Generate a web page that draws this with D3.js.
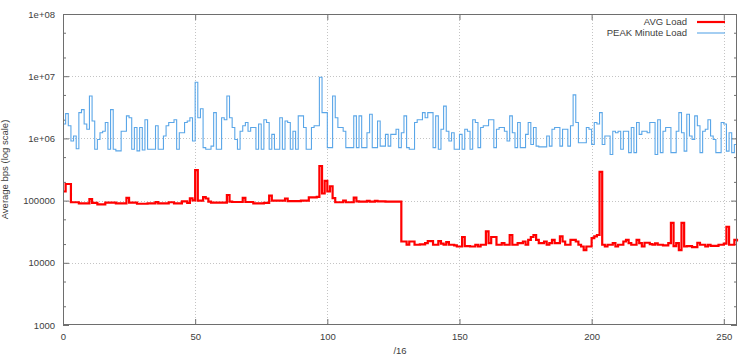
<!DOCTYPE html>
<html>
<head>
<meta charset="utf-8">
<script src="https://cdn.jsdelivr.net/npm/d3@7"></script>
<style>
  body { margin: 0; background: #fff; }
  svg { display: block; font-family: "Liberation Sans", Arial, sans-serif; }
  .tick text { fill: #404040; font-size: 9.5px; }
  .tick line { stroke: #707070; }
</style>
</head>
<body>
<div id="chart"></div>
<script>
// one value per /16 block, 0..255
const avgLoad = [
  140000, 185000, 185000, 94000, 94000, 94000, 90000, 90000, 90000, 90000, 106000, 92000, 92000, 87000, 87000, 87000,
  93000, 93000, 93000, 93000, 90000, 90000, 90000, 90000, 111000, 93000, 93000, 93000, 89000, 89000, 89000, 89000,
  90000, 90000, 90000, 95000, 90000, 90000, 90000, 90000, 94000, 94000, 90000, 90000, 90000, 97000, 97000, 92000,
  109000, 101000, 310000, 100000, 100000, 114000, 108000, 96000, 93000, 93000, 93000, 93000, 93000, 93000, 123000, 96000,
  95000, 95000, 95000, 95000, 111000, 95000, 95000, 95000, 90000, 90000, 90000, 90000, 92000, 92000, 120000, 100000,
  100000, 100000, 100000, 100000, 108000, 98000, 98000, 98000, 98000, 98000, 100000, 100000, 100000, 113000, 113000, 113000,
  115000, 360000, 130000, 207000, 140000, 170000, 110000, 94000, 94000, 94000, 100000, 94000, 94000, 94000, 112000, 97000,
  96000, 96000, 96000, 99000, 96000, 96000, 99000, 97000, 97000, 97000, 96000, 96000, 96000, 96000, 96000, 96000,
  22000, 22000, 19500, 22000, 22000, 19500, 19500, 19800, 19800, 20700, 22300, 22300, 19500, 19500, 22300, 20300,
  19500, 21500, 19500, 19500, 19000, 18300, 18300, 26000, 18500, 18500, 18300, 18300, 19500, 18300, 19500, 19500,
  32000, 20700, 26000, 26000, 19500, 19500, 20700, 19500, 19500, 28000, 19500, 19500, 20700, 20700, 22000, 19500,
  23400, 26000, 28000, 23400, 20700, 20700, 22000, 19500, 20700, 23400, 20700, 20700, 26500, 22000, 19500, 19500,
  23400, 23400, 22000, 19500, 18300, 16000, 18300, 18300, 25000, 26500, 28000, 290000, 19500, 18300, 19500, 19500,
  20700, 18300, 19500, 19500, 22000, 23400, 20700, 19500, 19500, 23400, 20700, 18300, 21000, 21000, 20000, 19500,
  20500, 19500, 19500, 19000, 19000, 20700, 44000, 18500, 20700, 16000, 44000, 18300, 18500, 18500, 17800, 17800,
  21000, 19500, 19500, 18300, 19500, 18700, 18700, 18700, 19500, 19500, 20300, 38000, 19500, 19500, 23400, 22000
]

const peakLoad = [
  1.7e6, 2.5e6, 1.6e6, 9.1e5, 1.09e6, 6.8e5, 2.6e6, 2.9e6, 1.7e6, 1.4e6, 4.8e6, 1.9e6, 6.7e5, 9.6e5, 1.23e6, 1.3e6,
  1.8e6, 6.7e5, 2.9e6, 6.7e5, 6.3e5, 6.3e5, 1.3e6, 1.3e6, 2.3e6, 2.15e6, 6.7e5, 1.5e6, 6.3e5, 1.5e6, 6.5e5, 2.0e6,
  6.7e5, 6.7e5, 6.7e5, 1.6e6, 6.7e5, 6.7e5, 1.09e6, 1.6e6, 1.8e6, 1.8e6, 2.0e6, 6.7e5, 1.23e6, 1.23e6, 1.8e6, 1.9e6,
  2.15e6, 9.1e5, 8e6, 2.15e6, 3.0e6, 7.1e5, 6.7e5, 6.7e5, 7.5e5, 2.6e6, 6.7e5, 6.7e5, 2.15e6, 2.0e6, 4.8e6, 2.15e6,
  1.5e6, 9.6e5, 6.7e5, 1.3e6, 1.6e6, 1.8e6, 1.3e6, 1.5e6, 1.5e6, 6.7e5, 1.7e6, 6.7e5, 2.0e6, 1.8e6, 6.7e5, 1.16e6,
  6.7e5, 6.7e5, 2.15e6, 6.7e5, 1.9e6, 1.8e6, 6.7e5, 1.3e6, 6.7e5, 2.3e6, 2.3e6, 1.5e6, 6.7e5, 6.7e5, 1.5e6, 1.6e6,
  1.6e6, 9.6e6, 2.6e6, 2.6e6, 7.1e5, 7.1e5, 4.8e6, 2.15e6, 1.5e6, 1.5e6, 1.3e6, 7.1e5, 7.1e5, 7.1e5, 2.3e6, 7.1e5,
  2.3e6, 7.1e5, 7.1e5, 1.23e6, 2.45e6, 7.1e5, 7.1e5, 1.9e6, 7.5e5, 7.5e5, 1.16e6, 7.5e5, 1.16e6, 1.16e6, 1.4e6, 7.1e5,
  1.23e6, 2.3e6, 7.1e5, 6.7e5, 6.7e5, 1.8e6, 2.0e6, 2.0e6, 2.6e6, 2.15e6, 2.6e6, 2.6e6, 7.1e5, 2.3e6, 6.7e5, 1.4e6,
  3.3e6, 1.3e6, 9.1e5, 1.23e6, 6.7e5, 6.7e5, 1.16e6, 6.7e5, 1.4e6, 1.3e6, 6.7e5, 2.0e6, 1.8e6, 7.1e5, 1.5e6, 1.6e6,
  1.6e6, 2.0e6, 2.0e6, 7.1e5, 1.4e6, 1.5e6, 1.5e6, 1.3e6, 9.1e5, 2.3e6, 1.23e6, 7.1e5, 1.8e6, 7.1e5, 7.1e5, 1.16e6,
  1.8e6, 8.0e5, 1.5e6, 7.5e5, 7.3e5, 7.3e5, 7.3e5, 1.09e6, 7.5e5, 1.4e6, 1.5e6, 1.5e6, 7.5e5, 1.4e6, 1.4e6, 7.5e5,
  1.6e6, 5e6, 1.8e6, 8.5e5, 8.5e5, 8.5e5, 1.5e6, 1.4e6, 8e5, 1.8e6, 1.7e6, 2.6e6, 8e5, 1.09e6, 1.09e6, 5.5e5,
  1.3e6, 1.23e6, 1.3e6, 6.7e5, 1.3e6, 1.3e6, 5.9e5, 1.5e6, 5.9e5, 1.8e6, 1.16e6, 1.3e6, 1.3e6, 1.23e6, 1.8e6, 1.8e6,
  5.5e5, 2.0e6, 5.9e5, 1.3e6, 1.5e6, 1.5e6, 5.9e5, 5.9e5, 1.3e6, 2.6e6, 1.23e6, 6.25e5, 2.45e6, 1.09e6, 9.6e5, 2.3e6,
  1.6e6, 5.9e5, 1.3e6, 1.4e6, 2.0e6, 1.09e6, 9.6e5, 5.9e5, 5.9e5, 1.8e6, 1.7e6, 6.25e5, 1.23e6, 5.9e5, 8e5, 8e5
]

const xTicks = [0, 50, 100, 150, 200, 250]
const yTicks = [1e3, 1e4, 1e5, 1e6, 1e7, 1e8]
const yTickLabels = ["1000", "10000", "100000", "1e+06", "1e+07", "1e+08"]
const yMinorTicks = [2e3, 5e3, 2e4, 5e4, 2e5, 5e5, 2e6, 5e6, 2e7, 5e7]
const series = [
    {name: "AVG Load", values: avgLoad, color: "#ff0000", width: 2.2},
    {name: "PEAK Minute Load", values: peakLoad, color: "#5aa6e8", width: 1.1}
]

const width = 741;
const height = 357;
const margin = {top: 14, right: 4, bottom: 32, left: 63};

const x = d3.scaleLinear()
    .domain([0, 255])
    .range([margin.left, width - margin.right]);

const y = d3.scaleLog()
    .domain([1e3, 1e8])
    .range([height - margin.bottom, margin.top]);

const svg = d3.select("#chart")
    .append("svg")
    .attr("width", width)
    .attr("height", height);

svg.append("rect")
    .attr("width", width)
    .attr("height", height)
    .attr("fill", "#fff");

// dotted grid
const grid = svg.append("g")
    .attr("stroke", "#c4c4c4")
    .attr("stroke-width", 1)
    .attr("stroke-dasharray", "1,2");

grid.selectAll("line.gx")
    .data(xTicks.filter(d => d > 0))
    .join("line")
    .attr("x1", d => Math.round(x(d)) + 0.5)
    .attr("x2", d => Math.round(x(d)) + 0.5)
    .attr("y1", y(1e8))
    .attr("y2", y(1e3));

grid.selectAll("line.gy")
    .data(yTicks.slice(1, -1))
    .join("line")
    .attr("x1", x(0))
    .attr("x2", x(255))
    .attr("y1", d => Math.round(y(d)) + 0.5)
    .attr("y2", d => Math.round(y(d)) + 0.5);

// axes, ticks pointing inwards like gnuplot
const labelFor = d => yTickLabels[yTicks.indexOf(d)]

const addAxis = (axis, tx, ty) => {
    const g = svg.append("g")
        .attr("transform", `translate(${tx}, ${ty})`)
        .call(axis);
    g.select(".domain").remove();
    return g;
}

addAxis(d3.axisLeft(y).tickValues(yTicks).tickFormat(labelFor).tickSizeInner(-6).tickSizeOuter(0).tickPadding(8), x(0), 0);
addAxis(d3.axisLeft(y).tickValues(yMinorTicks).tickFormat("").tickSizeInner(-3).tickSizeOuter(0), x(0), 0);
addAxis(d3.axisRight(y).tickValues(yTicks).tickFormat("").tickSizeInner(-6).tickSizeOuter(0), x(255), 0);
addAxis(d3.axisRight(y).tickValues(yMinorTicks).tickFormat("").tickSizeInner(-3).tickSizeOuter(0), x(255), 0);
addAxis(d3.axisBottom(x).tickValues(xTicks).tickFormat(d3.format("d")).tickSizeInner(-6).tickSizeOuter(0).tickPadding(8), 0, y(1e3));
addAxis(d3.axisTop(x).tickValues(xTicks).tickFormat("").tickSizeInner(-6).tickSizeOuter(0), 0, y(1e8));

// step lines
const line = d3.line()
    .x((d, i) => x(i))
    .y(d => y(d))
    .curve(d3.curveStepAfter);

const plot = svg.append("g");

plot.selectAll("path")
    .data(series.slice().reverse())
    .join("path")
    .attr("fill", "none")
    .attr("stroke", d => d.color)
    .attr("stroke-width", d => d.width)
    .attr("d", d => line(d.values));

// frame
svg.append("rect")
    .attr("x", x(0) + 0.5)
    .attr("y", y(1e8) + 0.5)
    .attr("width", x(255) - x(0) - 1)
    .attr("height", y(1e3) - y(1e8) - 1)
    .attr("fill", "none")
    .attr("stroke", "#6e6e6e")
    .attr("stroke-width", 1);

// legend
const legend = svg.append("g")
    .selectAll("g")
    .data(series)
    .join("g")
    .attr("transform", (d, i) => `translate(687, ${22 + i * 11})`);

legend.append("text")
    .attr("text-anchor", "end")
    .attr("dy", "0.35em")
    .attr("fill", "#404040")
    .style("font-size", "9.5px")
    .text(d => d.name);

legend.append("line")
    .attr("x1", 10)
    .attr("x2", 38)
    .attr("stroke", d => d.color)
    .attr("stroke-width", d => d.width);

// axis labels
svg.append("text")
    .attr("transform", `translate(8, ${(y(1e3) + y(1e8)) / 2}) rotate(-90)`)
    .attr("text-anchor", "middle")
    .attr("fill", "#404040")
    .style("font-size", "9.5px")
    .text("Average bps (log scale)");

svg.append("text")
    .attr("x", (x(0) + x(255)) / 2)
    .attr("y", 354)
    .attr("text-anchor", "middle")
    .attr("fill", "#404040")
    .style("font-size", "9.5px")
    .text("/16");
</script>
</body>
</html>
